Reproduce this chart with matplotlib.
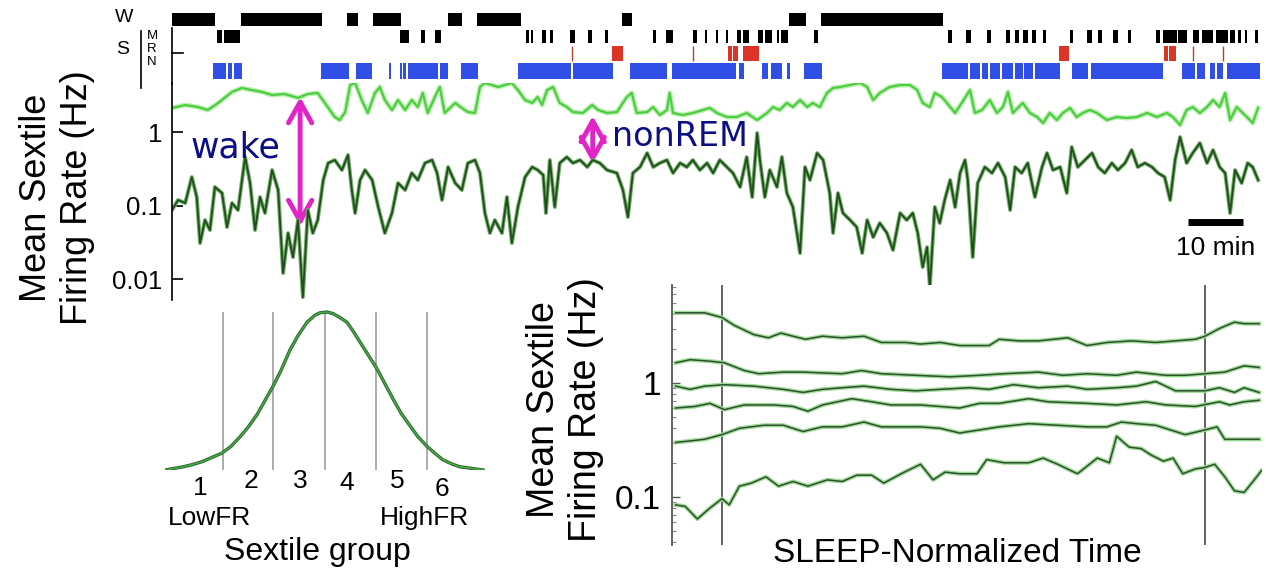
import numpy as np
import matplotlib
matplotlib.use("Agg")
import matplotlib.pyplot as plt
from matplotlib.lines import Line2D
from matplotlib.patches import FancyArrowPatch
from matplotlib.ticker import LogLocator, NullFormatter

plt.rcParams['font.family'] = ['Liberation Sans', 'DejaVu Sans']

# ---------------- hypnogram: bout (start, end) in minutes ----------------
wake_bouts = [(0.0, 7.8), (12.5, 27.3), (31.8, 33.8), (36.5, 41.6), (50.2, 52.7),
              (55.5, 63.5), (81.8, 83.6), (112.2, 115.3), (118.0, 140.2)]
micro_bouts = [(8.2, 9.1), (9.5, 12.4), (41.5, 43.1), (45.3, 46.0), (47.8, 48.9),
               (64.4, 64.9), (65.3, 65.6), (67.3, 68.0), (68.7, 69.3), (72.4, 73.3),
               (75.6, 76.4), (78.7, 79.3), (87.5, 88.0), (89.8, 91.1), (94.7, 95.5),
               (96.9, 97.3), (98.9, 99.3), (100.7, 101.1), (102.7, 103.5), (103.8, 104.9),
               (106.5, 107.5), (107.8, 109.1), (110.0, 110.4), (110.7, 112.0), (116.7, 117.5),
               (141.1, 141.8), (144.4, 145.3), (148.2, 148.9), (151.6, 152.4), (153.3, 154.0),
               (154.7, 155.6), (156.4, 157.1), (158.4, 158.9), (163.3, 163.8), (166.4, 167.3),
               (168.4, 169.1), (171.1, 172.0), (173.8, 174.4), (178.9, 179.6), (180.2, 182.7),
               (182.9, 184.5), (185.6, 186.7), (187.3, 189.3), (189.8, 192.0), (192.4, 193.3),
               (193.8, 194.4), (195.1, 195.5), (196.9, 197.5)]
rem_bouts = [(80.0, 82.0), (101.1, 101.8), (102.0, 102.9), (103.8, 106.7),
             (161.3, 163.1), (180.4, 181.1), (181.3, 182.5)]
rem_brief = [72.8, 94.7, 185.6, 191.1]
nrem_bouts = [(7.5, 9.8), (10.2, 10.9), (11.3, 12.7), (27.1, 32.2), (33.5, 36.4),
              (39.5, 39.8), (41.5, 41.8), (42.0, 42.5), (42.9, 48.4), (48.7, 50.2),
              (52.5, 55.6), (62.9, 72.5), (72.9, 80.2), (83.3, 90.0), (90.9, 102.5),
              (103.1, 104.0), (107.3, 108.4), (108.9, 110.9), (111.8, 112.4), (114.9, 118.2),
              (140.0, 144.7), (145.1, 146.9), (147.3, 148.4), (148.7, 150.5), (150.9, 152.9),
              (153.3, 154.7), (154.9, 156.5), (156.9, 161.5), (163.6, 166.5), (167.1, 180.2),
              (183.6, 186.0), (186.4, 187.8), (188.7, 189.6), (190.0, 191.1), (191.8, 197.8)]

# ---------------- mean sextile firing rates across the recording ----------------
# highest-rate sextile: time (min), log10 rate (Hz)
high_time = [0.0, 2.4, 4.7, 6.5, 8.4, 10.9, 12.7, 14.5, 16.4, 18.2,
             20.5, 22.9, 24.7, 26.5, 27.8, 29.6, 30.5, 31.5, 32.4, 33.3,
             34.5, 35.6, 36.9, 37.8, 38.7, 40.0, 41.1, 42.4, 43.6, 44.7,
             45.6, 46.5, 47.8, 48.7, 49.6, 51.5, 52.7, 53.8, 55.1, 56.0,
             56.9, 58.2, 59.3, 60.5, 61.8, 62.9, 64.2, 65.5, 66.5, 67.3,
             68.2, 69.3, 70.5, 71.8, 72.9, 74.7, 76.4, 77.5, 79.1, 80.9,
             82.7, 83.6, 84.5, 86.4, 87.5, 88.7, 90.0, 90.5, 91.1, 92.9,
             94.7, 96.5, 97.8, 99.1, 100.9, 102.7, 104.5, 106.4, 108.2, 109.3,
             110.5, 111.8, 112.9, 114.2, 115.5, 116.5, 117.8, 119.1, 120.2, 121.5,
             123.3, 125.1, 126.4, 127.5, 128.7, 130.5, 132.4, 134.2, 135.5, 136.5,
             137.8, 138.7, 140.0, 141.5, 142.4, 143.6, 145.1, 146.0, 147.3, 148.7,
             150.0, 151.1, 152.0, 152.9, 154.7, 156.0, 157.3, 158.4, 159.6, 160.9,
             162.0, 163.3, 164.5, 165.6, 166.9, 168.2, 170.0, 171.8, 173.6, 175.5,
             177.3, 179.1, 180.9, 182.0, 183.3, 184.5, 185.6, 186.9, 188.2, 189.3,
             190.5, 191.5, 192.4, 193.6, 194.7, 196.0, 196.5, 197.5]
high_log10hz = [0.327, 0.367, 0.340, 0.299, 0.395, 0.544, 0.599, 0.571, 0.544, 0.503,
                0.517, 0.463, 0.517, 0.531, 0.395, 0.204, 0.163, 0.272, 0.639, 0.667,
                0.435, 0.259, 0.531, 0.612, 0.435, 0.299, 0.435, 0.299, 0.435, 0.340,
                0.531, 0.259, 0.476, 0.612, 0.259, 0.395, 0.327, 0.272, 0.259, 0.612,
                0.667, 0.639, 0.612, 0.639, 0.667, 0.571, 0.435, 0.395, 0.476, 0.367,
                0.571, 0.612, 0.395, 0.340, 0.272, 0.259, 0.367, 0.299, 0.259, 0.272,
                0.476, 0.531, 0.259, 0.272, 0.340, 0.231, 0.299, 0.531, 0.259, 0.231,
                0.259, 0.299, 0.327, 0.259, 0.204, 0.204, 0.259, 0.163, 0.259, 0.340,
                0.299, 0.395, 0.340, 0.435, 0.340, 0.395, 0.340, 0.531, 0.599, 0.612,
                0.639, 0.667, 0.612, 0.435, 0.531, 0.612, 0.639, 0.639, 0.571, 0.395,
                0.340, 0.531, 0.476, 0.340, 0.259, 0.395, 0.571, 0.259, 0.299, 0.435,
                0.259, 0.340, 0.544, 0.259, 0.395, 0.259, 0.204, 0.122, 0.259, 0.163,
                0.259, 0.327, 0.204, 0.259, 0.299, 0.259, 0.163, 0.204, 0.190, 0.204,
                0.259, 0.204, 0.259, 0.204, 0.095, 0.299, 0.340, 0.259, 0.340, 0.435,
                0.340, 0.531, 0.163, 0.340, 0.259, 0.163, 0.122, 0.327]

# lowest-rate sextile: time (min), log10 rate (Hz)
low_time = [0.0, 1.1, 2.4, 3.6, 4.5, 5.1, 6.0, 6.9, 7.8, 9.1,
            10.0, 10.9, 12.0, 13.3, 14.2, 15.1, 16.0, 16.9, 18.2, 19.3,
            20.2, 21.1, 22.0, 22.9, 23.8, 24.7, 25.6, 26.5, 27.5, 28.4,
            29.6, 30.9, 32.0, 32.7, 33.3, 34.2, 35.1, 36.4, 37.5, 38.7,
            40.0, 41.1, 42.4, 43.6, 44.7, 46.0, 47.3, 48.2, 49.1, 50.2,
            51.5, 52.7, 53.8, 55.1, 56.0, 56.9, 57.8, 58.7, 60.0, 60.9,
            61.8, 62.9, 64.2, 65.5, 66.5, 67.5, 68.0, 68.7, 69.6, 70.5,
            71.8, 72.9, 74.2, 75.5, 76.5, 77.8, 79.1, 80.9, 82.0, 82.9,
            83.8, 85.1, 86.4, 87.5, 88.7, 90.0, 91.1, 92.4, 93.6, 94.7,
            96.0, 97.3, 98.4, 99.6, 100.9, 102.0, 103.3, 104.5, 105.5, 106.4,
            106.9, 107.8, 108.7, 110.0, 110.9, 111.8, 112.9, 114.2, 115.1, 116.0,
            117.3, 118.4, 119.6, 120.2, 121.1, 122.0, 123.3, 124.5, 125.5, 126.4,
            127.5, 128.7, 130.0, 131.1, 132.4, 133.6, 134.7, 135.6, 136.5, 137.3,
            137.8, 138.7, 139.6, 140.5, 141.5, 142.4, 143.3, 144.2, 144.7, 145.6,
            146.5, 147.8, 149.1, 150.2, 151.5, 152.4, 153.3, 154.5, 155.6, 156.9,
            158.2, 159.1, 160.2, 161.5, 162.7, 163.6, 164.7, 166.0, 167.3, 168.4,
            169.6, 170.9, 172.0, 173.3, 174.5, 175.6, 176.9, 178.2, 179.3, 180.5,
            181.5, 182.4, 183.3, 184.5, 185.6, 186.9, 188.2, 189.3, 190.5, 191.5,
            192.4, 193.3, 194.5, 195.6, 196.5, 197.5]
low_log10hz = [-1.061, -0.925, -0.966, -0.612, -0.884, -1.510, -1.197, -1.333, -0.748, -0.830,
               -1.293, -0.966, -1.061, -0.340, -0.694, -1.333, -0.884, -1.102, -0.517, -0.789,
               -1.918, -1.374, -1.701, -1.197, -2.245, -1.061, -1.374, -1.197, -0.653, -0.422,
               -0.381, -0.517, -0.313, -0.789, -1.102, -0.653, -0.517, -0.653, -1.020, -1.374,
               -1.102, -0.694, -0.789, -0.558, -0.653, -0.422, -0.381, -0.558, -0.925, -0.476,
               -0.694, -0.789, -0.422, -0.381, -0.558, -1.102, -1.374, -1.197, -1.374, -0.884,
               -1.510, -1.020, -0.612, -0.476, -0.517, -0.585, -1.102, -0.381, -1.020, -0.422,
               -0.340, -0.422, -0.381, -0.476, -0.381, -0.422, -0.517, -0.558, -0.789, -1.156,
               -0.558, -0.476, -0.286, -0.476, -0.422, -0.381, -0.558, -0.422, -0.476, -0.381,
               -0.517, -0.422, -0.558, -0.381, -0.476, -0.558, -0.748, -0.340, -0.884, -0.014,
               -0.381, -0.884, -0.517, -0.748, -0.340, -0.830, -1.020, -1.646, -0.476, -0.653,
               -0.286, -0.381, -0.830, -1.374, -0.830, -1.102, -1.197, -1.293, -1.646, -1.197,
               -1.429, -1.238, -1.374, -1.605, -1.102, -1.197, -1.102, -1.374, -1.837, -1.565,
               -2.109, -1.020, -1.238, -0.925, -0.653, -1.020, -0.558, -0.381, -0.653, -1.701,
               -0.694, -0.476, -0.558, -0.422, -0.612, -1.061, -0.476, -0.558, -0.422, -0.884,
               -0.476, -0.286, -0.517, -0.476, -0.830, -0.204, -0.476, -0.381, -0.286, -0.476,
               -0.558, -0.422, -0.517, -0.422, -0.245, -0.476, -0.422, -0.476, -0.558, -0.612,
               -0.925, -0.381, -0.068, -0.422, -0.286, -0.150, -0.422, -0.245, -0.476, -0.558,
               -1.102, -0.517, -0.694, -0.422, -0.476, -0.653]

# state-dependent spread between the two sextiles (min, Hz)
wake_gap = (23.3, 2.99, 0.0526)
nrem_gap = (76.5, 1.65, 0.379)
scale_bar_min = (184.7, 194.7)

# ---------------- firing-rate distribution split into sextiles ----------------
dist_z = [-3.2, -2.84, -2.64, -2.44, -2.26, -2.06, -1.88, -1.7, -1.54, -1.36,
          -1.2, -1.04, -0.88, -0.7, -0.54, -0.36, -0.2, -0.1, 0.04, 0.16,
          0.3, 0.44, 0.56, 0.7, 0.86, 1.04, 1.2, 1.36, 1.52, 1.7,
          1.86, 2.04, 2.2, 2.36, 2.54, 2.7, 2.94, 3.16]
dist_density = [0.0, 0.02, 0.035, 0.055, 0.08, 0.107, 0.15, 0.21, 0.27, 0.35,
                0.44, 0.53, 0.63, 0.76, 0.85, 0.935, 0.98, 0.995, 1.0, 0.99,
                0.965, 0.935, 0.88, 0.81, 0.73, 0.64, 0.545, 0.45, 0.36, 0.28,
                0.21, 0.15, 0.105, 0.064, 0.038, 0.02, 0.01, 0.0]
sextile_edges = [-2.04, -1.04, 0.0, 1.02, 2.04]
sextile_labels = ['1', '2', '3', '4', '5', '6']

# ---------------- sextile rates on SLEEP-normalized time (log10 Hz) ----------------
sx6_t = [-0.096, -0.036, 0.0, 0.025, 0.066, 0.096, 0.122, 0.147, 0.173, 0.208, 0.249,
         0.294, 0.330, 0.381, 0.411, 0.452, 0.492, 0.553, 0.574, 0.614, 0.655, 0.716,
         0.756, 0.797, 0.848, 0.898, 0.939, 0.980, 1.000, 1.030, 1.061, 1.081, 1.112]
sx6_l = [0.616, 0.616, 0.575, 0.507, 0.425, 0.397, 0.438, 0.411, 0.384, 0.411, 0.397,
         0.411, 0.356, 0.356, 0.342, 0.356, 0.329, 0.329, 0.384, 0.370, 0.370, 0.397,
         0.329, 0.356, 0.370, 0.356, 0.370, 0.384, 0.411, 0.479, 0.534, 0.521, 0.521]
sx5_t = [-0.096, -0.066, -0.025, 0.005, 0.046, 0.076, 0.127, 0.168, 0.249, 0.289, 0.330,
         0.401, 0.472, 0.533, 0.584, 0.655, 0.706, 0.756, 0.817, 0.858, 0.919, 0.959,
         1.000, 1.041, 1.081, 1.112]
sx5_l = [0.178, 0.205, 0.192, 0.178, 0.110, 0.082, 0.096, 0.096, 0.082, 0.110, 0.082,
         0.068, 0.055, 0.068, 0.082, 0.096, 0.068, 0.082, 0.068, 0.096, 0.068, 0.068,
         0.082, 0.096, 0.151, 0.137]
sx4_t = [-0.096, -0.066, -0.036, 0.005, 0.066, 0.127, 0.168, 0.208, 0.249, 0.294, 0.350,
         0.401, 0.452, 0.513, 0.553, 0.604, 0.655, 0.716, 0.756, 0.817, 0.858, 0.898,
         0.939, 1.000, 1.030, 1.061, 1.081, 1.112]
sx4_l = [-0.027, -0.055, -0.027, -0.014, -0.027, -0.055, -0.082, -0.055, -0.041, -0.027, -0.055,
         -0.068, -0.055, -0.041, -0.055, -0.014, -0.041, -0.027, -0.055, -0.041, -0.027, 0.014,
         -0.068, -0.068, -0.041, -0.082, -0.041, -0.082]
sx3_t = [-0.096, -0.056, -0.025, 0.005, 0.046, 0.107, 0.147, 0.178, 0.208, 0.269, 0.310,
         0.350, 0.411, 0.492, 0.533, 0.574, 0.635, 0.675, 0.756, 0.817, 0.878, 0.919,
         0.980, 1.030, 1.051, 1.081, 1.112]
sx3_l = [-0.219, -0.205, -0.178, -0.233, -0.192, -0.192, -0.205, -0.247, -0.192, -0.137, -0.164,
         -0.192, -0.192, -0.219, -0.178, -0.178, -0.137, -0.164, -0.178, -0.192, -0.164, -0.192,
         -0.205, -0.164, -0.192, -0.164, -0.151]
sx2_t = [-0.096, -0.036, 0.0, 0.036, 0.086, 0.127, 0.168, 0.208, 0.249, 0.294, 0.330,
         0.371, 0.411, 0.452, 0.492, 0.533, 0.574, 0.635, 0.695, 0.756, 0.797, 0.827,
         0.858, 0.898, 0.959, 1.000, 1.025, 1.041, 1.081, 1.112]
sx2_l = [-0.521, -0.493, -0.452, -0.397, -0.370, -0.370, -0.425, -0.384, -0.384, -0.342, -0.384,
         -0.384, -0.384, -0.397, -0.438, -0.411, -0.384, -0.356, -0.370, -0.384, -0.384, -0.342,
         -0.356, -0.370, -0.452, -0.411, -0.384, -0.493, -0.493, -0.493]
sx1_t = [-0.096, -0.076, -0.051, -0.025, 0.0, 0.015, 0.036, 0.061, 0.091, 0.117, 0.147,
         0.178, 0.218, 0.249, 0.279, 0.310, 0.335, 0.371, 0.411, 0.437, 0.462, 0.492,
         0.528, 0.548, 0.584, 0.635, 0.665, 0.695, 0.736, 0.777, 0.802, 0.817, 0.843,
         0.868, 0.888, 0.914, 0.934, 0.954, 0.980, 1.000, 1.020, 1.041, 1.061, 1.081,
         1.102, 1.117]
sx1_l = [-1.068, -1.082, -1.192, -1.096, -1.014, -1.068, -0.904, -0.877, -0.822, -0.904, -0.863,
         -0.904, -0.849, -0.863, -0.808, -0.808, -0.877, -0.795, -0.712, -0.849, -0.781, -0.795,
         -0.795, -0.671, -0.699, -0.699, -0.658, -0.712, -0.795, -0.658, -0.699, -0.466, -0.562,
         -0.575, -0.630, -0.685, -0.658, -0.795, -0.753, -0.740, -0.712, -0.822, -0.945, -0.959,
         -0.849, -0.767]
sleep_bounds = [0.0, 1.0]

# ======================================================================
W_PX, H_PX = 1266, 579
fig = plt.figure(figsize=(W_PX / 100, H_PX / 100), dpi=100)


def fx(x):
    return x / W_PX


def fy(y):
    return 1 - y / H_PX


def axes_px(x0, y0, x1, y1):
    return fig.add_axes([fx(x0), fy(y1), (x1 - x0) / W_PX, (y1 - y0) / H_PX])


def spans(bouts):
    return [(s, e - s) for s, e in bouts]


T_MAX = 198.2

# ---- hypnogram ----
axh = axes_px(172, 10, 1262, 82)
axh.set_xlim(0, T_MAX)
axh.set_ylim(0, 1)
axh.axis('off')
axh.broken_barh(spans(wake_bouts), (0.778, 0.18), facecolors='black')
axh.broken_barh(spans(micro_bouts), (0.542, 0.18), facecolors='black')
axh.broken_barh(spans(rem_bouts), (0.292, 0.208), facecolors='#dd3428')
axh.vlines(rem_brief, 0.292, 0.5, color='#b8402c', lw=1.0)
axh.broken_barh(spans(nrem_bouts), (0.042, 0.222), facecolors='#2f4fe6')

fig.text(fx(124), fy(18), 'W', ha='center', va='center', fontsize=14)
fig.text(fx(123), fy(50), 'S', ha='center', va='center', fontsize=14)
for lab, yy in zip(['M', 'R', 'N'], [36, 49, 62]):
    fig.text(fx(152), fy(yy), lab, ha='center', va='center', fontsize=9.5)
fig.add_artist(Line2D([fx(141), fx(141)], [fy(31), fy(88)], color='black', lw=1.2))
fig.add_artist(Line2D([fx(172), fx(172)], [fy(28), fy(84)], color='black', lw=1.2))
fig.add_artist(Line2D([fx(172), fx(183)], [fy(53), fy(53)], color='black', lw=1.2))

# ---- sextile rates over the recording ----
ax = axes_px(172, 83, 1262, 300)
ax.set_yscale('log')
ax.set_xlim(0, T_MAX)
ax.set_ylim(0.0052, 4.64)
ax.patch.set_alpha(0)
for s in ['top', 'right', 'bottom']:
    ax.spines[s].set_visible(False)
ax.spines['left'].set_linewidth(1.2)
ax.set_xticks([])
ax.set_yticks([0.01, 0.1, 1])
ax.set_yticklabels(['0.01', '0.1', '1'])
ax.yaxis.set_minor_locator(plt.NullLocator())
ax.tick_params(axis='y', direction='in', length=8, width=1.2, pad=7, labelsize=18.5)

ht = np.array(high_time)
hr = 10 ** np.array(high_log10hz)
lt = np.array(low_time)
lr = 10 ** np.array(low_log10hz)
ax.plot(ht, hr, color='#bdf0b2', lw=3.6, solid_joinstyle='round')
ax.plot(ht, hr, color='#4ccd42', lw=1.6, solid_joinstyle='round')
ax.plot(lt, lr, color='#6fae66', lw=2.8, solid_joinstyle='round')
ax.plot(lt, lr, color='#214d1d', lw=1.3, solid_joinstyle='round')

magenta = '#e024c6'
for t, top, bot in [wake_gap, nrem_gap]:
    ax.add_patch(FancyArrowPatch((t, top), (t, bot),
                                 arrowstyle='<->,head_length=0.75,head_width=0.42',
                                 mutation_scale=20, lw=3.5, color=magenta,
                                 shrinkA=0, shrinkB=0))
ax.text(3.3, 0.457, 'wake', family='DejaVu Sans', fontsize=25, color='#0d0d85',
        ha='left', va='baseline')
ax.text(80.0, 0.645, 'nonREM', family='DejaVu Sans', fontsize=24, color='#0d0d85',
        ha='left', va='baseline')

ax.plot(scale_bar_min, [0.0597, 0.0597], color='black', lw=5, solid_capstyle='butt')
ax.text(np.mean(scale_bar_min), 0.0262, '10 min', ha='center', va='center', fontsize=19)

fig.text(fx(57), fy(198), 'Mean Sextile\nFiring Rate (Hz)', rotation=90,
         ha='center', va='center', fontsize=26, linespacing=1.2)

# ---- distribution with sextile boundaries ----
axb = axes_px(165, 300, 485, 470)
axb.set_xlim(-3.2, 3.2)
axb.set_ylim(0, 1.076)
axb.axis('off')
axb.vlines(sextile_edges, 0, 1.0, color='#a6a6a6', lw=1.3)
axb.plot(dist_z, dist_density, color='#2b5f2b', lw=2.4, solid_joinstyle='round')
axb.plot(dist_z, dist_density, color='#45a845', lw=1.2, solid_joinstyle='round')

for lab, (xx, yy) in zip(sextile_labels, [(200, 488), (251, 481), (300, 481),
                                          (347, 483), (397, 481), (442, 489)]):
    fig.text(fx(xx), fy(yy), lab, ha='center', va='center', fontsize=19)
fig.text(fx(210), fy(518), 'LowFR', ha='center', va='center', fontsize=19)
fig.text(fx(425), fy(518), 'HighFR', ha='center', va='center', fontsize=19)
fig.text(fx(317), fy(552), 'Sextile group', ha='center', va='center', fontsize=23)

# ---- sextile rates on SLEEP-normalized time ----
axr = axes_px(672, 285, 1262, 545)
axr.set_yscale('log')
axr.set_xlim(-0.1035, 1.118)
axr.set_ylim(10 ** -1.42, 10 ** 0.86)
for s in ['top', 'right', 'bottom']:
    axr.spines[s].set_visible(False)
axr.spines['left'].set_color('#555555')
axr.spines['left'].set_linewidth(1.3)
axr.set_xticks([])
axr.set_yticks([0.1, 1])
axr.set_yticklabels(['0.1', '1'])
axr.yaxis.set_minor_locator(LogLocator(base=10, subs=np.arange(2, 10)))
axr.yaxis.set_minor_formatter(NullFormatter())
axr.tick_params(axis='y', which='major', direction='in', length=6, width=1.0,
                pad=8, labelsize=24, color='#555555')
axr.tick_params(axis='y', which='minor', direction='in', length=3, width=0.8,
                color='#888888')
for b in sleep_bounds:
    axr.axvline(b, color='#555555', lw=1.3)

for t, l in [(sx6_t, sx6_l), (sx5_t, sx5_l), (sx4_t, sx4_l),
             (sx3_t, sx3_l), (sx2_t, sx2_l), (sx1_t, sx1_l)]:
    r = 10 ** np.array(l)
    axr.plot(t, r, color='#9fdc97', lw=3.0, solid_joinstyle='round')
    axr.plot(t, r, color='#2e4f30', lw=1.1, solid_joinstyle='round')

fig.text(fx(565), fy(410), 'Mean Sextile\nFiring Rate (Hz)', rotation=90,
         ha='center', va='center', fontsize=27, linespacing=1.2)
fig.text(fx(957), fy(553), 'SLEEP-Normalized Time', ha='center', va='center', fontsize=24)

fig.savefig('out.png', dpi=100)
